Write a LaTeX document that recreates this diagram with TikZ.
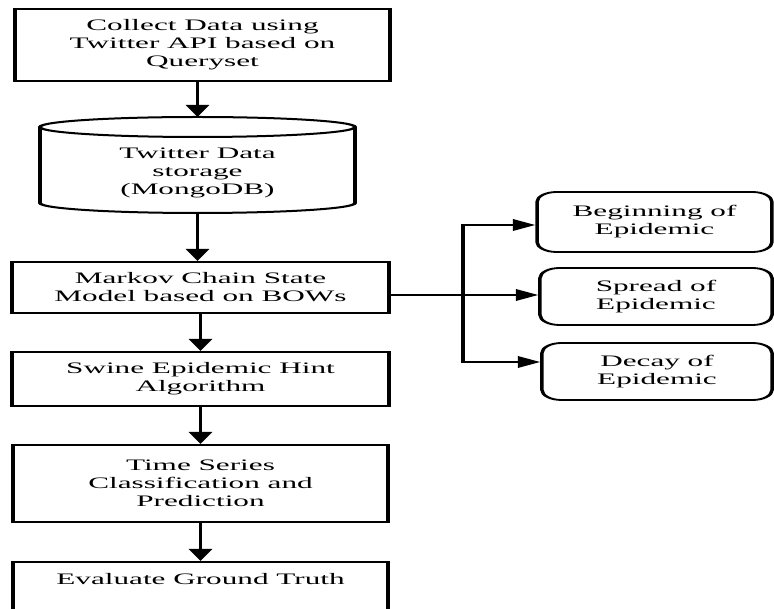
\documentclass[tikz,border=0pt]{standalone}
\usepackage{fontspec}
\setmainfont{Liberation Serif}
\usetikzlibrary{arrows.meta,calc}
\begin{document}
\begin{tikzpicture}[x=1pt,y=1pt]
\useasboundingbox (0,0) rectangle (774,608);
\begin{scope}[transform canvas={xscale=1.95}, x=0.51282pt, y=1pt,
  tfont/.style={font=\fontsize{16}{18}\selectfont},
  box/.style={draw, line width=2pt, inner sep=0pt, align=center, tfont},
  rbox/.style={box, rounded corners=10pt, line width=1.8pt},
  txt/.style={align=center, inner sep=0pt, tfont},
  varrow/.style={line width=1.8pt, -{Triangle[length=12pt,width=11.8pt]}},
  harrow/.style={line width=1.9pt, -{Triangle[length=11.5pt,width=11.5pt]}}
]
% left column
\node[box, minimum width=192.3pt, minimum height=72pt] (collect) at (202.5,563) {Collect Data using\\Twitter API based on\\Queryset};
% cylinder
\draw[line width=2pt] (197.5,481) ellipse [x radius=80.77pt, y radius=10pt];
\draw[line width=2pt] (40,481) -- (40,405) arc[start angle=180, end angle=360, x radius=80.77pt, y radius=10pt] -- (355,481);
\coordinate (cyltop) at (197.5,491);
\coordinate (cylbot) at (197.5,395);
\node[txt] (store) at (197.5,435) {Twitter Data\\storage\\(MongoDB)};
\node[box, minimum width=193.3pt, minimum height=51pt] (markov) at (200.5,320.5) {Markov Chain State\\Model based on BOWs};
\node[box, minimum width=193.3pt, minimum height=54pt] (swine) at (200.5,229) {Swine Epidemic Hint\\Algorithm};
\node[box, minimum width=192.3pt, minimum height=77pt] (time) at (200.5,124.5) {Time Series\\Classification and\\Prediction};
\node[box, minimum width=192.3pt, minimum height=70pt] (eval) at (200.5,11) {};
\node[txt] (evaltxt) at (200.5,28.6) {Evaluate Ground Truth};
% right column
\node[rbox, minimum width=120.5pt, minimum height=60pt] (beg) at (654.5,386) {Beginning of\\Epidemic};
\node[rbox, minimum width=119pt, minimum height=57pt] (spr) at (656,311.5) {Spread of\\Epidemic};
\node[rbox, minimum width=118pt, minimum height=57pt] (dec) at (657,236.5) {Decay of\\Epidemic};
% vertical connectors
\draw[varrow] (cyltop |- collect.south) -- (cyltop);
\draw[varrow] (cylbot) -- (cylbot |- markov.north);
\draw[varrow] (markov.south) -- (swine.north);
\draw[varrow] (swine.south) -- (time.north);
\draw[varrow] (time.south) -- (eval.north);
% branch
\coordinate (j) at (463,313);
\draw[harrow] (markov.east |- j) -- (j) -- (spr.west |- j);
\draw[harrow] (j) |- ([yshift=-3pt]beg.west);
\draw[harrow] (j) |- ([yshift=9.5pt]dec.west);
\end{scope}
\end{tikzpicture}
\end{document}
